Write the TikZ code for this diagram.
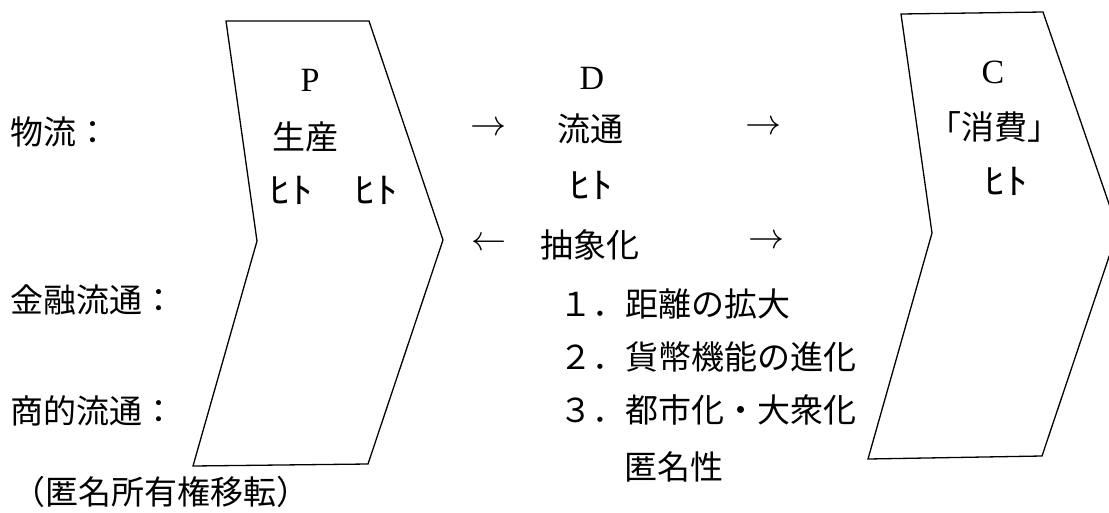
\documentclass[tikz,border=0pt]{standalone}
\usepackage{fontspec}
\usepackage{graphicx}
\newfontfamily\jp{Noto Sans CJK JP}
\newfontfamily\lat{Liberation Serif}
\newcommand{\hitoK}{\scalebox{1.2}[1]{ﾋﾄ}}
\newcommand{\rarrowK}{\resizebox{36pt}{!}{$\rightarrow$}}
\newcommand{\larrowK}{\resizebox{35pt}{!}{$\leftarrow$}}
\begin{document}
\begin{tikzpicture}[x=1pt,y=-1pt,
  chevron/.style={draw=black, line width=1.3pt, line join=miter},
  jtext/.style={font=\jp\fontsize{33}{40}\selectfont, inner sep=0pt},
  ktext/.style={font=\jp\fontsize{36}{40}\selectfont, inner sep=0pt},
  ltext/.style={font=\lat\fontsize{34}{40}\selectfont, inner sep=0pt},
  arr/.style={inner sep=0pt}]
\useasboundingbox (0,0) rectangle (1109,512);
\clip (0,0) rectangle (1109,512);
% chevrons
\draw[chevron] (226,21) -- (369,21) -- (443,240) -- (368,464) -- (193,466) -- (257,241) -- cycle;
\draw[chevron] (901,14) -- (1043,12) -- (1118,230) -- (1042,456) -- (868,459) -- (932,233) -- cycle;
% left labels
\node[jtext, anchor=west] (butsu) at (10,132) {物流：};
\node[jtext, anchor=west] (kinyu) at (10,300) {金融流通：};
\node[jtext, anchor=west] (shoteki) at (10,411) {商的流通：};
\node[jtext, anchor=west] (tokumei) at (12,492) {（匿名所有権移転）};
% P box
\node[ltext] (P) at (310,80) {P};
\node[jtext] (seisan) at (305,137) {生産};
\node[ktext] (hito1) at (291,190) {\hitoK};
\node[ktext] (hito2) at (376,190) {\hitoK};
% D column
\node[ltext] (D) at (592,78) {D};
\node[arr] (a1) at (488,129) {\rarrowK};
\node[jtext] (ryutsu) at (590,129) {流通};
\node[arr] (a2) at (763,128) {\rarrowK};
\node[ktext] (hito3) at (591,185) {\hitoK};
\node[arr] (a3) at (489,244) {\larrowK};
\node[jtext] (chusho) at (590,245) {抽象化};
\node[arr] (a4) at (766,242) {\rarrowK};
% list
\node[jtext, anchor=west] (l1) at (559,304) {１．距離の拡大};
\node[jtext, anchor=west] (l2) at (559,357) {２．貨幣機能の進化};
\node[jtext, anchor=west] (l3) at (559,410) {３．都市化・大衆化};
\node[jtext, anchor=west] (l4) at (624,467) {匿名性};
% C box
\node[ltext] (C) at (993,72) {C};
\node[jtext] (shohi) at (994,127) {「消費」};
\node[ktext] (hito4) at (1006,181) {\hitoK};
\end{tikzpicture}
\end{document}
